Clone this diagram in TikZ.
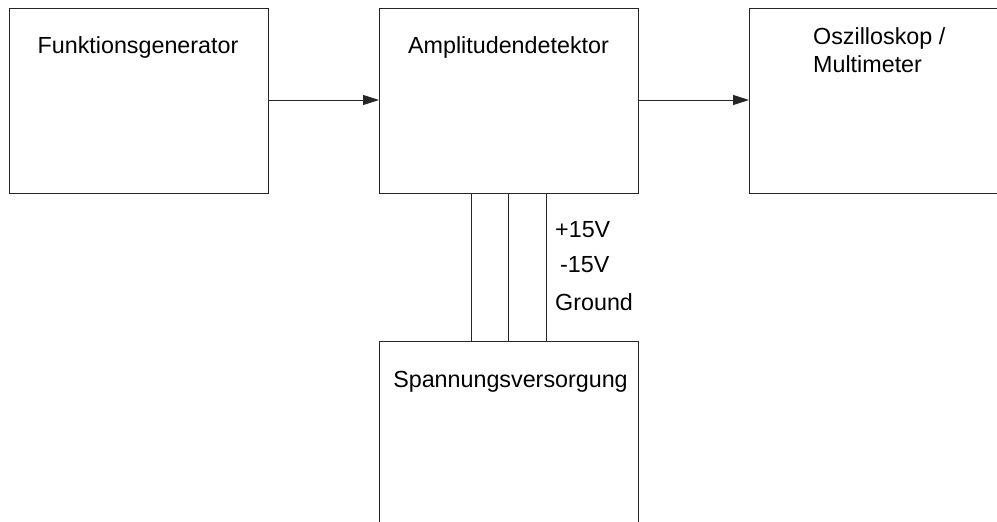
\documentclass[tikz,border=0pt]{standalone}
\usepackage{fontspec}
\setmainfont{Liberation Sans}
\usetikzlibrary{arrows.meta}
\begin{document}
\begin{tikzpicture}[x=1pt,y=-1pt,
  box/.style={draw=black!85,line width=1pt,rectangle,inner sep=0pt,anchor=north west},
  txt/.style={inner sep=0pt,font=\fontsize{23.3}{27}\selectfont},
  wire/.style={draw=black!85,line width=1pt},
  arr/.style={wire,-{Triangle[length=16pt,width=10pt]}}]
\useasboundingbox (0,0) rectangle (997,522);
\clip (0,0) rectangle (997,522);
\fill[white] (0,0) rectangle (997,522);
\node[box,minimum width=259pt,minimum height=185pt] (fg) at (8.5,8) {};
\node[box,minimum width=259pt,minimum height=185pt] (ad) at (379,8) {};
\node[box,minimum width=262pt,minimum height=185pt] (os) at (749,8) {};
\node[box,minimum width=259pt,minimum height=190pt] (sv) at (379,341) {};
\node[txt,anchor=base] (fgt) at (138,53) {Funktionsgenerator};
\node[txt,anchor=base] (adt) at (508.5,53) {Amplitudendetektor};
\node[txt,anchor=base west] (ost1) at (813,45) {Oszilloskop /};
\node[txt,anchor=base west] (ost2) at (813,72) {Multimeter};
\node[txt,anchor=base] (svt) at (510.5,387) {Spannungsversorgung};
\node[txt,anchor=base west] (l1) at (555,237) {+15V};
\node[txt,anchor=base west] (l2) at (560,272) {-15V};
\node[txt,anchor=base west] (l3) at (555,310) {Ground};
\draw[arr] (fg.east |- 0,100) -- (ad.west |- 0,100);
\draw[arr] (ad.east |- 0,100) -- (os.west |- 0,100);
\draw[wire] (471,0 |- ad.south) -- (471,0 |- sv.north);
\draw[wire] (508.5,0 |- ad.south) -- (508.5,0 |- sv.north);
\draw[wire] (546,0 |- ad.south) -- (546,0 |- sv.north);
\end{tikzpicture}
\end{document}
